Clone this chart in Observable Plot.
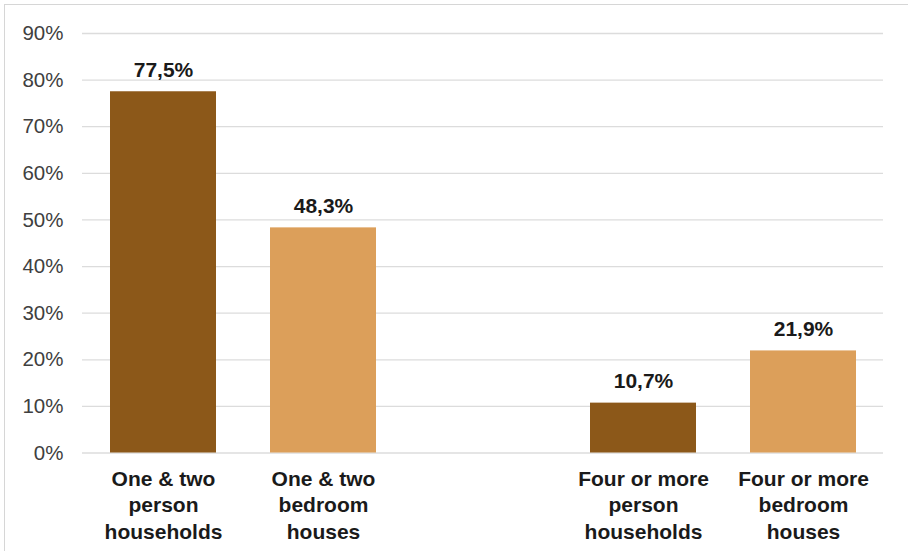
<!DOCTYPE html>
<html>
<head>
<meta charset="utf-8">
<script src="https://cdn.jsdelivr.net/npm/d3@7"></script>
<script src="https://cdn.jsdelivr.net/npm/@observablehq/plot@0.6"></script>
<style>
  html, body { margin: 0; padding: 0; background: #fff; }
  #wrap { position: relative; width: 908px; height: 551px; overflow: hidden; }
  #border { position: absolute; left: 4px; top: 4px; width: 920px; height: 560px;
            border-left: 1.5px solid #d6d6d6; border-top: 1.5px solid #d6d6d6; pointer-events: none; }
  #chart { position: absolute; left: 0; top: 0; }
</style>
</head>
<body>
<div id="wrap"><div id="chart"></div><div id="border"></div></div>
<script>
// Share of households by size vs. share of houses by bedroom count
const categories = [
  "One & two\nperson\nhouseholds",
  "One & two\nbedroom\nhouses",
  "Four or more\nperson\nhouseholds",
  "Four or more\nbedroom\nhouses"
];
const values = [77.5, 48.3, 10.7, 21.9];
const kinds = ["person", "bedroom", "person", "bedroom"];
const yTicks = [0, 10, 20, 30, 40, 50, 60, 70, 80, 90];

// empty slot separating the two groups of bars
const gap = " ";
const xDomain = [categories[0], categories[1], gap, categories[2], categories[3]];

const data = categories.map((c, i) => ({category: c, value: values[i], kind: kinds[i]}));
const fmt = v => v.toFixed(1).replace(".", ",") + "%";

const font = "Liberation Sans, Arial, Helvetica, sans-serif";

const chart = Plot.plot({
  width: 908,
  height: 551,
  marginLeft: 82,
  marginRight: 25,
  marginTop: 33,
  marginBottom: 98.5,
  style: {fontFamily: font, background: "transparent"},
  x: {domain: xDomain, paddingInner: 0.338, paddingOuter: 0.169, axis: null},
  y: {domain: [0, 90], axis: null},
  color: {domain: ["person", "bedroom"], range: ["#8c5819", "#dc9f5a"]},
  marks: [
    Plot.gridY(yTicks, {stroke: "#dcdcdc", strokeOpacity: 1, strokeWidth: 1.3}),
    Plot.axisY(yTicks, {
      tickSize: 0, tickPadding: 19, tickFormat: d => d + "%",
      fontSize: 20.5, fill: "#404040", label: null
    }),
    Plot.axisX(categories, {
      tickSize: 0, tickPadding: 14, lineHeight: 1.26,
      fontSize: 21, fontWeight: "bold", fill: "#1a1a1a", label: null
    }),
    Plot.barY(data, {x: "category", y: "value", fill: "kind"}),
    Plot.text(data, {
      x: "category", y: "value", text: d => fmt(d.value),
      lineAnchor: "bottom", dy: -15,
      fontSize: 21, fontWeight: "bold", fill: "#1a1a1a"
    })
  ]
});
document.getElementById("chart").appendChild(chart);
</script>
</body>
</html>
